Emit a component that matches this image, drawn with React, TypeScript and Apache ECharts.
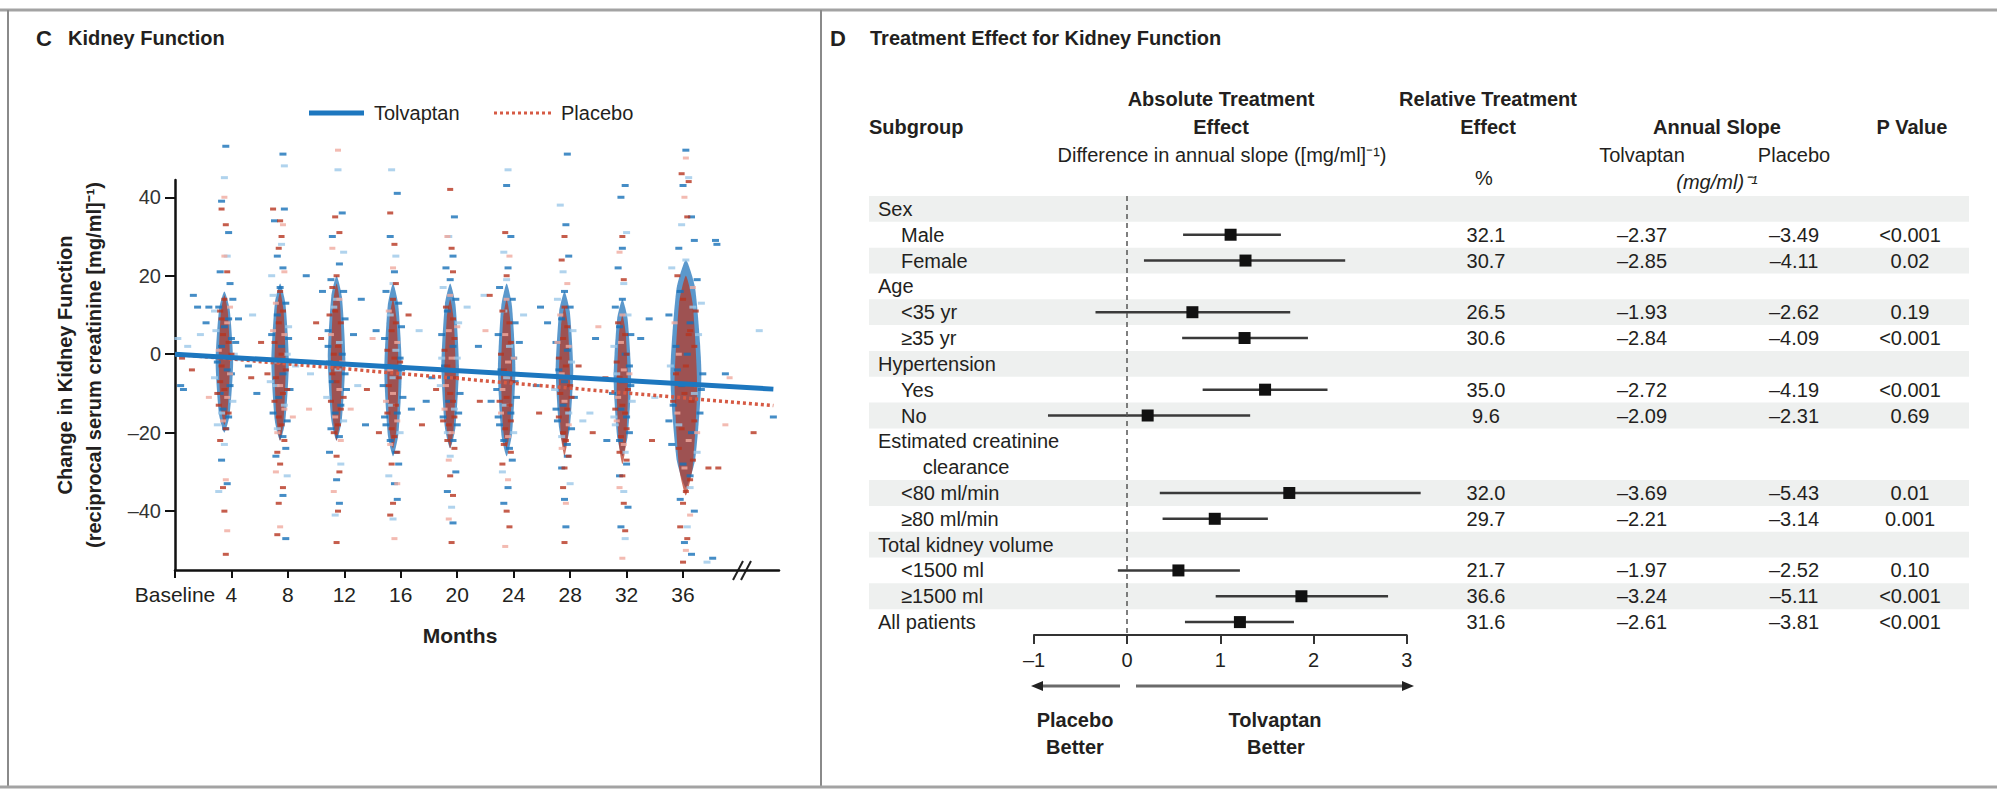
import React, { useEffect, useRef } from "react";
import * as echarts from "echarts";

const FONT = "'Liberation Sans', Arial, Helvetica, sans-serif";
const INK = "#231f20";

// ---------------- Panel C: kidney function scatter ----------------
const visitMonths = [3.5, 7.45, 11.45, 15.45, 19.5, 23.5, 27.6, 31.7, 36.2];
const monthTicks = [0, 4, 8, 12, 16, 20, 24, 28, 32, 36];
const changeTicks = [-40, -20, 0, 20, 40];

// dense core of each visit cloud: top, bottom (change units), half width (months)
const tolvaptanCoreTop = [16, 18, 20, 18, 18, 18, 16, 14, 24];
const tolvaptanCoreBottom = [-20, -22, -22, -26, -24, -26, -24, -26, -34];
const tolvaptanCoreHalfWidth = [0.62, 0.62, 0.62, 0.62, 0.62, 0.62, 0.62, 0.62, 1.1];
const placeboCoreTop = [15, 16, 18, 14, 14, 14, 12, 10, 20];
const placeboCoreBottom = [-18, -22, -22, -24, -24, -24, -26, -28, -36];
const placeboCoreHalfWidth = [0.4, 0.4, 0.4, 0.4, 0.4, 0.4, 0.4, 0.4, 0.8];

// individual patients per visit: pairs of (offset from visit month, change)
const tolvaptanByVisit: number[][] = [
  [-0.4, 12, 0.3, 9, -0.6, 6, 0.5, 4, -0.2, 2, 0.7, 0, -0.5, -2, 0.2, -4, -0.7, -6, 0.4, -8, -0.3, -10, 0.6, -12, -0.1, -14, 0.3, -16, -0.5, -18, 0.1, -19, 0.6, 14, -0.7, 11, 0.0, 7, 0.5, -5, -0.2, -15, 0.8, 3, 0.1, 53, 0.0, 45, -0.2, 39, 0.3, 31, 0.2, 25, -0.3, 21, 0.4, 18, 0.0, -23, -0.2, -27, 0.2, -33, -0.4, -35, 1.0, 9, -1.1, 12],
  [-0.5, 15, 0.4, 13, -0.2, 10, 0.6, 7, -0.6, 5, 0.1, 2, 0.5, 0, -0.4, -2, 0.2, -5, -0.7, -7, 0.7, -9, -0.1, -11, 0.3, -13, -0.5, -15, 0.5, -17, -0.2, -19, 0.2, -21, 0.0, 17, -0.3, -8, 0.6, 4, 0.2, 51, 0.3, 48, 0.3, 37, -0.4, 34, 0.1, 28, -0.2, 25, 0.2, 22, -0.6, 20, 0.4, -24, -0.3, -26, 0.5, -31, 0.2, -36, 0.4, -47, 1.1, -3],
  [-0.4, 19, 0.5, 16, -0.2, 12, 0.6, 9, -0.6, 6, 0.2, 3, 0.4, 0, -0.5, -2, 0.1, -4, -0.3, -7, 0.7, -9, -0.7, -11, 0.3, -13, -0.1, -15, 0.5, -17, -0.4, -19, 0.2, -21, 0.0, 14, 0.6, -5, -0.6, 2, 0.1, 47, 0.4, 36, -0.3, 30, 0.5, 26, 0.2, 23, -0.5, -25, 0.3, -28, 0.0, -32, 0.2, -38, -0.1, -41, 1.2, 5, -1.0, 16, 1.5, -8],
  [-0.5, 16, 0.4, 13, -0.2, 10, 0.6, 7, -0.6, 4, 0.2, 1, 0.5, -1, -0.4, -3, 0.0, -6, -0.7, -8, 0.7, -11, -0.1, -13, 0.3, -15, -0.5, -18, 0.5, -20, -0.2, -22, 0.2, -25, 0.0, 18, 0.6, -4, -0.6, -16, -0.1, 47, 0.3, 41, -0.2, 30, 0.2, 25, 0.1, 21, 0.4, -28, -0.3, -31, 0.1, -33, 0.3, -37, 0.0, -42, -1.2, 6, 1.3, -14],
  [-0.5, 17, 0.4, 14, -0.2, 11, 0.6, 8, -0.6, 5, 0.2, 2, 0.5, -1, -0.4, -3, 0.0, -6, -0.7, -8, 0.7, -10, -0.1, -12, 0.3, -14, -0.5, -16, 0.5, -18, -0.2, -20, 0.2, -22, 0.0, 19, -0.6, -1, 0.6, -15, 0.3, 35, -0.1, 30, 0.2, 25, -0.3, 22, 0.0, -26, 0.4, -30, -0.2, -35, 0.1, -39, 0.2, -43, -1.3, -6, 1.2, 12],
  [-0.5, 17, 0.4, 14, -0.2, 11, 0.6, 8, -0.6, 5, 0.2, 2, 0.5, -1, -0.4, -4, 0.0, -6, -0.7, -9, 0.7, -11, -0.1, -13, 0.3, -15, -0.5, -18, 0.5, -20, -0.2, -22, 0.2, -24, 0.0, 19, 0.6, -7, -0.6, -16, 0.1, 47, 0.0, 43, 0.3, 30, -0.2, 26, 0.1, 22, 0.4, -27, -0.3, -30, 0.1, -34, -0.2, -38, 1.2, 10, -1.1, -12, 0.9, 3],
  [-0.5, 14, 0.4, 12, -0.2, 9, 0.6, 6, -0.6, 3, 0.2, 1, 0.5, -2, -0.4, -4, 0.0, -7, -0.7, -9, 0.7, -11, -0.1, -13, 0.3, -15, -0.5, -17, 0.5, -19, -0.2, -21, 0.2, -23, 0.0, 16, 0.6, -6, -0.6, -14, 0.2, 51, -0.3, 38, 0.1, 33, 0.3, 25, -0.1, 21, 0.2, -26, -0.2, -29, 0.4, -33, 0.0, -37, 0.1, -44, 1.3, -17, -1.2, 8],
  [-0.5, 12, 0.4, 10, -0.2, 7, 0.6, 5, -0.6, 2, 0.2, 0, 0.5, -3, -0.4, -5, 0.0, -7, -0.7, -10, 0.7, -12, -0.1, -14, 0.3, -16, -0.5, -18, 0.5, -20, -0.2, -22, 0.2, -25, 0.0, 14, 0.6, -8, -0.6, -16, 0.2, 43, -0.1, 40, 0.3, 31, 0.0, 27, -0.3, 22, 0.1, 18, 0.3, -28, -0.2, -31, 0.1, -35, 0.4, -39, -0.1, -44, 0.2, -47, 1.3, 4, -1.1, -22],
  [-1.0, 22, 0.8, 19, -0.4, 16, 1.1, 13, -1.2, 10, 0.3, 8, 0.9, 5, -0.7, 2, 0.1, 0, -1.1, -3, 1.2, -5, -0.3, -8, 0.6, -10, -0.9, -13, 1.0, -15, -0.5, -18, 0.4, -20, -1.0, -23, 0.8, -25, -0.2, -28, 0.3, -31, 0.0, 24, 1.1, -9, -1.2, -17, 0.5, 12, -0.6, -4, 0.0, 52, 0.2, 45, -0.2, 43, 0.4, 35, -0.3, 33, 0.6, 29, -0.5, 27, 0.3, -34, -0.4, -37, 0.6, -40, 0.1, -44, -0.1, -48, 0.4, -51, 1.5, -53, 1.9, -52, 2.2, 28],
];
const placeboByVisit: number[][] = [
  [0.0, 14, -0.3, 11, 0.2, 8, -0.1, 5, 0.3, 3, -0.4, 1, 0.1, -1, -0.2, -3, 0.4, -5, -0.3, -7, 0.0, -9, 0.2, -11, -0.4, -13, 0.3, -15, -0.1, -17, 0.1, -19, -0.2, 9, 0.4, 12, -0.5, -10, 0.5, 0, 0.0, 40, -0.2, 37, 0.1, 33, 0.0, 25, 0.2, 21, -0.3, -22, 0.1, -32, -0.1, -34, 0.0, -40, 0.2, -45, 0.1, -51],
  [0.0, 16, -0.3, 13, 0.2, 11, -0.1, 8, 0.3, 5, -0.4, 3, 0.1, 0, -0.2, -2, 0.4, -4, -0.3, -6, 0.0, -8, 0.2, -10, -0.4, -12, 0.3, -14, -0.1, -16, 0.1, -18, -0.2, -20, 0.3, -22, 0.5, -9, -0.5, 6, -0.5, 37, 0.0, 34, 0.2, 33, 0.1, 30, -0.1, 27, 0.3, 21, -0.2, -25, 0.0, -28, -0.3, -30, 0.2, -34, -0.1, -38, 0.0, -44, -0.2, -46, -0.9, -5, 0.9, -16],
  [0.0, 20, -0.3, 17, 0.2, 14, -0.1, 11, 0.3, 8, -0.4, 5, 0.1, 2, -0.2, 0, 0.4, -2, -0.3, -5, 0.0, -7, 0.2, -9, -0.4, -12, 0.3, -14, -0.1, -16, 0.1, -18, -0.2, -20, 0.3, -22, -0.5, 10, 0.5, -11, 0.1, 52, -0.1, 35, 0.2, 31, -0.3, 27, 0.0, -26, 0.2, -30, -0.2, -35, 0.1, -40, 0.0, -48, 1.0, -14, -1.1, 4],
  [0.0, 14, -0.3, 11, 0.2, 8, -0.1, 6, 0.3, 3, -0.4, 1, 0.1, -1, -0.2, -4, 0.4, -6, -0.3, -8, 0.0, -10, 0.2, -13, -0.4, -15, 0.3, -17, -0.1, -19, 0.1, -21, -0.2, -23, 0.3, -25, 0.5, -2, -0.5, -12, -0.2, 36, 0.1, 28, 0.0, 22, 0.2, 18, -0.1, -28, 0.3, -33, 0.0, -38, -0.2, -41, 0.1, -47, 1.1, 10, -1.0, -20],
  [0.0, 15, -0.3, 12, 0.2, 9, -0.1, 6, 0.3, 4, -0.4, 1, 0.1, -1, -0.2, -3, 0.4, -6, -0.3, -8, 0.0, -10, 0.2, -12, -0.4, -14, 0.3, -16, -0.1, -18, 0.1, -20, -0.2, -22, 0.3, -24, 0.5, 7, -0.5, -17, 0.0, 42, -0.2, 30, 0.1, 27, 0.2, 21, -0.1, -27, 0.0, -31, 0.2, -36, -0.1, -42, 0.1, -48, -1.0, -9],
  [0.0, 14, -0.3, 11, 0.2, 8, -0.1, 5, 0.3, 3, -0.4, 0, 0.1, -2, -0.2, -4, 0.4, -7, -0.3, -9, 0.0, -11, 0.2, -13, -0.4, -15, 0.3, -17, -0.1, -19, 0.1, -21, -0.2, -23, 0.3, -25, 0.5, -1, -0.5, -12, -0.1, 31, 0.2, 25, 0.0, 20, -0.3, -28, 0.1, -32, 0.0, -40, 0.2, -44, -0.1, -49, -1.2, 15],
  [0.0, 12, -0.3, 10, 0.2, 7, -0.1, 4, 0.3, 2, -0.4, -1, 0.1, -3, -0.2, -5, 0.4, -8, -0.3, -10, 0.0, -12, 0.2, -14, -0.4, -16, 0.3, -18, -0.1, -20, 0.1, -22, -0.2, -24, 0.3, -26, 0.5, -11, -0.5, 3, 0.0, 30, -0.2, 24, 0.2, 18, 0.0, -29, -0.1, -34, 0.1, -38, 0.0, -48, 1.0, -3],
  [0.0, 10, -0.3, 8, 0.2, 5, -0.1, 3, 0.3, 0, -0.4, -2, 0.1, -4, -0.2, -6, 0.4, -9, -0.3, -11, 0.0, -13, 0.2, -15, -0.4, -17, 0.3, -19, -0.1, -21, 0.1, -23, -0.2, -25, 0.3, -27, 0.5, -5, -0.5, -14, 0.0, 30, -0.2, 26, 0.1, 19, 0.0, -31, -0.2, -34, 0.1, -38, 0.2, -45, 0.0, -52, -1.2, -6],
  [-0.6, 20, 0.5, 17, -0.2, 14, 0.7, 11, -0.8, 8, 0.2, 5, 0.6, 2, -0.5, 0, 0.0, -3, -0.7, -5, 0.8, -8, -0.1, -10, 0.4, -12, -0.6, -15, 0.6, -17, -0.3, -19, 0.2, -22, -0.5, -24, 0.5, -27, -0.1, -29, 0.3, -32, 0.0, -35, 0.8, -20, -0.9, -12, 0.3, 6, 0.0, 50, -0.3, 46, 0.2, 44, -0.1, 40, 0.1, 35, -0.2, -38, 0.3, -41, -0.4, -44, 0.1, -47, 0.0, -50, -0.2, -53, 1.6, -29, 2.8, -18],
];
// patients measured between the scheduled visits: (month, change)
const tolvaptanOffVisit: number[][] = [[0.2, 4], [0.4, -8], [0.6, -9], [0.9, 2], [1.3, 15], [1.6, 12], [1.8, 5], [2.2, 8], [5.2, -3], [5.5, 10], [5.8, -10], [9.3, 20], [9.6, -5], [13.2, 14], [13.5, -18], [17.3, 6], [17.8, -12], [21.5, 2], [21.9, 15], [25.6, -8], [25.9, 12], [29.4, -15], [29.8, 4], [33.6, 9], [34.0, -11], [38.3, 29], [39.0, -5], [41.4, 6], [42.4, -16]];
const placeboOffVisit: number[][] = [[0.5, -1], [1.2, -4], [2.4, -11], [5.4, -6], [6.1, 3], [9.5, -14], [10.0, 8], [13.6, -9], [14.0, 4], [17.5, -18], [21.6, -12], [22.0, 6], [25.8, -15], [29.6, -20], [30.0, 7], [33.8, -22], [38.5, -29], [39.3, -6], [41.0, -20]];

// fitted annual-slope lines: (month, change)
const tolvaptanFit = [[0, 0], [42.4, -8.9]];
const placeboFit = [[0, 0], [42.4, -13.1]];

// ---------------- Panel D: treatment effect table ----------------
const subgroups = ["Sex", "Male", "Female", "Age", "<35 yr", "≥35 yr", "Hypertension", "Yes", "No", "Estimated creatinine", "clearance", "<80 ml/min", "≥80 ml/min", "Total kidney volume", "<1500 ml", "≥1500 ml", "All patients"];
const subgroupLevel = [0, 1, 1, 0, 1, 1, 0, 1, 1, 0, 2, 1, 1, 0, 1, 1, 0];
const shadedRows = [0, 2, 4, 6, 8, 11, 13, 15];
const effectEstimate = [null, 1.11, 1.27, null, 0.70, 1.26, null, 1.48, 0.22, null, null, 1.74, 0.94, null, 0.55, 1.87, 1.21];
const effectLow = [null, 0.60, 0.18, null, -0.34, 0.59, null, 0.81, -0.85, null, null, 0.35, 0.38, null, -0.10, 0.95, 0.62];
const effectHigh = [null, 1.65, 2.34, null, 1.75, 1.94, null, 2.15, 1.32, null, null, 3.15, 1.51, null, 1.21, 2.80, 1.79];
const relativeEffect = [null, 32.1, 30.7, null, 26.5, 30.6, null, 35.0, 9.6, null, null, 32.0, 29.7, null, 21.7, 36.6, 31.6];
const slopeTolvaptan = [null, -2.37, -2.85, null, -1.93, -2.84, null, -2.72, -2.09, null, null, -3.69, -2.21, null, -1.97, -3.24, -2.61];
const slopePlacebo = [null, -3.49, -4.11, null, -2.62, -4.09, null, -4.19, -2.31, null, null, -5.43, -3.14, null, -2.52, -5.11, -3.81];
const pValues = [null, "<0.001", "0.02", null, "0.19", "<0.001", null, "<0.001", "0.69", null, null, "0.01", "0.001", null, "0.10", "<0.001", "<0.001"];

const dash = (v: number) => (v < 0 ? "\u2013" + String(Math.abs(v)) : String(v));
const fmt2 = (v: number) => (v < 0 ? "\u2013" : "") + Math.abs(v).toFixed(2);

function buildPoints(byVisit: number[][], off: number[][]) {
  const out: number[][] = [];
  byVisit.forEach((flat, i) => {
    for (let k = 0; k < flat.length; k += 2) out.push([Math.round((visitMonths[i] + flat[k]) * 100) / 100, flat[k + 1]]);
  });
  off.forEach((p) => out.push(p));
  return out;
}

function coreSeries(name: string, top: number[], bottom: number[], half: number[], color: string, z: number) {
  return {
    type: "custom", name, xAxisIndex: 0, yAxisIndex: 0, z, silent: true, clip: false,
    data: visitMonths.map((m, i) => [m, top[i], bottom[i], half[i]]),
    encode: { x: 0, y: [1, 2] },
    renderItem: (_p: any, api: any) => {
      const c = api.value(0), t = api.value(1), b = api.value(2), h = api.value(3);
      const mid = (t + b) / 2;
      const pts = [[c, t], [c + h * 0.6, t - (t - mid) * 0.25], [c + h, mid], [c + h * 0.6, b + (mid - b) * 0.25], [c, b], [c - h * 0.6, b + (mid - b) * 0.25], [c - h, mid], [c - h * 0.6, t - (t - mid) * 0.25]].map((p) => api.coord(p));
      return { type: "polygon", shape: { points: pts, smooth: 0.2 }, style: { fill: color } };
    },
  };
}

const ROW_TOP = 196;
const ROW_H = 439 / 17;

function txt(x: number, y: number, text: string, o: any = {}) {
  return {
    type: "text", x, y, silent: true, rotation: o.rotation || 0,
    style: {
      text, fontFamily: FONT, fontSize: o.size || 20, fontWeight: o.bold ? "bold" : "normal",
      fontStyle: o.italic ? "italic" : "normal", fill: o.color || INK,
      textAlign: o.align || "left", textVerticalAlign: "middle", lineHeight: o.lineHeight || 24,
    },
  };
}
function seg(x1: number, y1: number, x2: number, y2: number, color: string, w: number, lineDash?: number[]) {
  return { type: "line", silent: true, shape: { x1, y1, x2, y2 }, style: { stroke: color, lineWidth: w, lineDash: lineDash || null } };
}

export default function App() {
  const ref = useRef<HTMLDivElement>(null);
  useEffect(() => {
    if (!ref.current) return;
    const chart = echarts.init(ref.current, undefined, { renderer: "svg" });
    const tolvPts = buildPoints(tolvaptanByVisit, tolvaptanOffVisit);
    const placPts = buildPoints(placeboByVisit, placeboOffVisit);

    const rowData = subgroups.map((_s, i) => [-1, i]);
    const forestData: number[][] = [];
    effectEstimate.forEach((e, i) => {
      if (e !== null) forestData.push([effectLow[i] as number, effectHigh[i] as number, e, i]);
    });

    const graphic: any[] = [
      seg(0, 10, 1997, 10, "#a3a3a3", 3),
      seg(8, 10, 8, 788, "#8a8a8a", 2),
      seg(821, 10, 821, 788, "#8a8a8a", 2),
      seg(0, 787, 1997, 787, "#a3a3a3", 3),
      txt(36, 38, "C", { bold: true, size: 22 }),
      txt(68, 38, "Kidney Function", { bold: true }),
      txt(830, 38, "D", { bold: true, size: 22 }),
      txt(870, 38, "Treatment Effect for Kidney Function", { bold: true }),
      // legend of panel C
      seg(309, 113, 364, 113, "#1d77bf", 5),
      txt(374, 113, "Tolvaptan"),
      seg(494, 113, 553, 113, "#d65a44", 3, [3, 3]),
      txt(561, 113, "Placebo"),
      txt(79.5, 365, "Change in Kidney Function\n(reciprocal serum creatinine [mg/ml]\u207B\u00B9)", { bold: true, rotation: Math.PI / 2, align: "center", lineHeight: 29 }),
      txt(460, 635, "Months", { bold: true, size: 21, align: "center" }),
      seg(733, 580, 743, 561, "#222", 2),
      seg(741, 580, 751, 561, "#222", 2),
      // header of panel D
      txt(869, 127, "Subgroup", { bold: true }),
      txt(1221, 99, "Absolute Treatment", { bold: true, align: "center" }),
      txt(1221, 127, "Effect", { bold: true, align: "center" }),
      txt(1222, 155, "Difference in annual slope ([mg/ml]\u207B\u00B9)", { align: "center" }),
      txt(1488, 99, "Relative Treatment", { bold: true, align: "center" }),
      txt(1488, 127, "Effect", { bold: true, align: "center" }),
      txt(1484, 178, "%", { align: "center" }),
      txt(1717, 127, "Annual Slope", { bold: true, align: "center" }),
      txt(1642, 155, "Tolvaptan", { align: "center" }),
      txt(1794, 155, "Placebo", { align: "center" }),
      txt(1717, 182, "(mg/ml)\u207B\u00B9", { italic: true, align: "center" }),
      txt(1912, 127, "P Value", { bold: true, align: "center" }),
      // direction arrows
      seg(1041, 686, 1120, 686, "#6a6a6a", 3),
      { type: "polygon", silent: true, shape: { points: [[1031, 686], [1043, 681], [1043, 691]] }, style: { fill: "#222" } },
      seg(1136, 686, 1404, 686, "#6a6a6a", 3),
      { type: "polygon", silent: true, shape: { points: [[1414, 686], [1402, 681], [1402, 691]] }, style: { fill: "#222" } },
      txt(1075, 720, "Placebo", { bold: true, align: "center" }),
      txt(1075, 747, "Better", { bold: true, align: "center" }),
      txt(1275, 720, "Tolvaptan", { bold: true, align: "center" }),
      txt(1276, 747, "Better", { bold: true, align: "center" }),
    ];

    const option: any = {
      animation: false,
      backgroundColor: "#ffffff",
      textStyle: { fontFamily: FONT },
      grid: [
        { left: 175, top: 180, width: 604, height: 390, outerBoundsMode: "none", containLabel: false },
        { left: 1034, top: ROW_TOP, width: 372.7, height: 439, outerBoundsMode: "none", containLabel: false },
      ],
      xAxis: [
        {
          type: "value", gridIndex: 0, min: 0, max: 42.8,
          axisLine: { show: true, onZero: false, lineStyle: { color: "#111", width: 2.5 } },
          axisTick: { show: true, length: 8, customValues: monthTicks, lineStyle: { color: "#111", width: 2 } },
          axisLabel: { customValues: monthTicks, margin: 14, fontSize: 21, color: INK, fontFamily: FONT, formatter: (v: number) => (v === 0 ? "Baseline" : String(v)) },
          splitLine: { show: false },
        },
        {
          type: "value", gridIndex: 1, min: -1, max: 3, interval: 1,
          axisLine: { show: true, onZero: false, lineStyle: { color: "#333", width: 2 } },
          axisTick: { show: true, length: 9, lineStyle: { color: "#333", width: 2 } },
          axisLabel: { margin: 15, fontSize: 20, color: INK, fontFamily: FONT, formatter: (v: number) => dash(v) },
          splitLine: { show: false },
        },
      ],
      yAxis: [
        {
          type: "value", gridIndex: 0, min: -55, max: 44.4,
          axisLine: { show: true, onZero: false, lineStyle: { color: "#111", width: 2.5 } },
          axisTick: { show: true, length: 10, customValues: changeTicks, lineStyle: { color: "#111", width: 2 } },
          axisLabel: { customValues: changeTicks, margin: 14, fontSize: 20, color: "#333", fontFamily: FONT, formatter: (v: number) => dash(v) },
          splitLine: { show: false },
        },
        { type: "value", gridIndex: 1, min: -0.5, max: 16.5, inverse: true, show: false },
      ],
      series: [
        coreSeries("Tolvaptan core", tolvaptanCoreTop, tolvaptanCoreBottom, tolvaptanCoreHalfWidth, "rgba(28,112,184,0.72)", 1),
        coreSeries("Placebo core", placeboCoreTop, placeboCoreBottom, placeboCoreHalfWidth, "rgba(184,56,34,0.72)", 2),
        {
          type: "scatter", name: "Tolvaptan patients", xAxisIndex: 0, yAxisIndex: 0, z: 3, clip: false, silent: true,
          symbol: "rect", symbolSize: [7, 3], data: tolvPts,
          itemStyle: { color: (p: any) => (p.dataIndex % 3 === 2 ? "#9cc8e8" : "#1670b8") },
        },
        {
          type: "scatter", name: "Placebo patients", xAxisIndex: 0, yAxisIndex: 0, z: 4, clip: false, silent: true,
          symbol: "rect", symbolSize: [6, 3], data: placPts,
          itemStyle: { color: (p: any) => (p.dataIndex % 3 === 2 ? "#f0aa9f" : "#b7351f") },
        },
        {
          type: "line", name: "Tolvaptan", xAxisIndex: 0, yAxisIndex: 0, z: 6, data: tolvaptanFit,
          symbol: "none", showSymbol: false, clip: false, silent: true,
          lineStyle: { color: "#1d77bf", width: 5 }, itemStyle: { color: "#1d77bf" },
        },
        {
          type: "line", name: "Placebo", xAxisIndex: 0, yAxisIndex: 0, z: 5, data: placeboFit,
          symbol: "none", showSymbol: false, clip: false, silent: true,
          lineStyle: { color: "#d65a44", width: 3.5, type: [3, 3] }, itemStyle: { color: "#d65a44" },
        },
        {
          type: "custom", name: "Subgroup rows", xAxisIndex: 1, yAxisIndex: 1, z: 1, silent: true, clip: false,
          data: rowData, encode: { x: 0, y: 1 },
          renderItem: (_p: any, api: any) => {
            const i = api.value(1);
            const cy = api.coord([0, i])[1];
            const children: any[] = [];
            if (shadedRows.indexOf(i) >= 0) {
              children.push({ type: "rect", shape: { x: 869, y: cy - ROW_H / 2, width: 1100, height: ROW_H }, style: { fill: "#eef0ef" } });
            }
            const lvl = subgroupLevel[i];
            const lx = lvl === 0 ? 878 : lvl === 1 ? 901 : 966;
            children.push(txt(lx, cy, subgroups[i], { align: lvl === 2 ? "center" : "left" }));
            if (relativeEffect[i] !== null) {
              children.push(txt(1486, cy, (relativeEffect[i] as number).toFixed(1), { align: "center" }));
              children.push(txt(1642, cy, fmt2(slopeTolvaptan[i] as number), { align: "center" }));
              children.push(txt(1794, cy, fmt2(slopePlacebo[i] as number), { align: "center" }));
              children.push(txt(1910, cy, pValues[i] as string, { align: "center" }));
            }
            return { type: "group", children };
          },
        },
        {
          type: "custom", name: "Absolute treatment effect", xAxisIndex: 1, yAxisIndex: 1, z: 4, silent: true, clip: false,
          data: forestData, encode: { x: [0, 1, 2], y: 3 },
          renderItem: (_p: any, api: any) => {
            const r = api.value(3);
            const lo = api.coord([api.value(0), r]);
            const hi = api.coord([api.value(1), r]);
            const pt = api.coord([api.value(2), r]);
            return {
              type: "group",
              children: [
                { type: "line", shape: { x1: lo[0], y1: lo[1], x2: hi[0], y2: hi[1] }, style: { stroke: "#3a3a3a", lineWidth: 2.5 } },
                { type: "rect", shape: { x: pt[0] - 6, y: pt[1] - 6, width: 12, height: 12 }, style: { fill: "#111" } },
              ],
            };
          },
          markLine: {
            silent: true, symbol: ["none", "none"], label: { show: false },
            lineStyle: { color: "#555", width: 1.5, type: [5, 4] },
            data: [{ xAxis: 0 }],
          },
        },
      ],
      graphic,
    };
    chart.setOption(option);
    return () => chart.dispose();
  }, []);
  return (
    <div style={{ position: "absolute", left: 0, top: 0, width: 1997, height: 789, background: "#fff" }}>
      <div ref={ref} style={{ width: 1997, height: 789 }} />
    </div>
  );
}
